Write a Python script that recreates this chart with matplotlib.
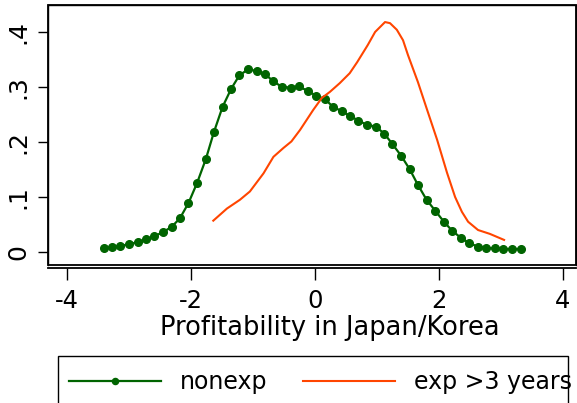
import numpy as np
import matplotlib
matplotlib.use("Agg")
import matplotlib.pyplot as plt
from matplotlib.patches import Rectangle

plt.rcParams['font.family'] = ['DejaVu Sans']

# kernel density, non-exporters (evaluated at 50 points)
nonexp_x = [-3.41, -3.27, -3.14, -3.00, -2.86, -2.72, -2.59, -2.45, -2.31, -2.18,
            -2.04, -1.90, -1.76, -1.63, -1.49, -1.35, -1.22, -1.08, -0.94, -0.80,
            -0.67, -0.53, -0.39, -0.26, -0.12, 0.02, 0.16, 0.29, 0.43, 0.57,
            0.70, 0.84, 0.98, 1.12, 1.25, 1.39, 1.53, 1.66, 1.80, 1.94,
            2.08, 2.21, 2.35, 2.49, 2.63, 2.76, 2.90, 3.04, 3.17, 3.32]
nonexp_y = [0.007, 0.0085, 0.011, 0.014, 0.018, 0.023, 0.029, 0.036, 0.046, 0.061,
            0.089, 0.126, 0.169, 0.218, 0.264, 0.297, 0.321, 0.332, 0.329, 0.323,
            0.310, 0.300, 0.299, 0.301, 0.293, 0.284, 0.278, 0.264, 0.256, 0.247,
            0.239, 0.231, 0.228, 0.215, 0.196, 0.175, 0.150, 0.122, 0.095, 0.075,
            0.055, 0.039, 0.026, 0.016, 0.0097, 0.0073, 0.0067, 0.0055, 0.0055, 0.0055]

# kernel density, exporters for more than 3 years
exp_x = [-1.64, -1.42, -1.21, -1.05, -0.83, -0.67, -0.51, -0.38, -0.24, -0.03,
         0.11, 0.24, 0.40, 0.56, 0.68, 0.85, 0.97, 1.13, 1.21, 1.32,
         1.42, 1.50, 1.66, 1.81, 1.97, 2.13, 2.26, 2.37, 2.47, 2.63, 2.82, 3.05]
exp_y = [0.057, 0.079, 0.095, 0.110, 0.143, 0.173, 0.189, 0.201, 0.222, 0.258,
         0.280, 0.291, 0.307, 0.325, 0.345, 0.376, 0.400, 0.418, 0.416, 0.404,
         0.385, 0.358, 0.309, 0.258, 0.204, 0.144, 0.100, 0.073, 0.055, 0.040, 0.033, 0.022]

green = "#006400"
orange = "#ff4500"

fig = plt.figure(figsize=(5.77, 4.03), dpi=100)
ax = fig.add_axes([48/577, 1-265/403, 528/577, 260/403])

ax.plot(nonexp_x, nonexp_y, color=green, lw=1.6, marker='o', ms=5.5,
        label="nonexp", clip_on=False)
ax.plot(exp_x, exp_y, color=orange, lw=1.5, label="exp >3 years")

ax.set_xlim(-4.306, 4.21)
ax.set_ylim(-0.0236, 0.449)

ax.set_xticks([-4, -2, 0, 2, 4])
ax.set_xticklabels(["-4", "-2", "0", "2", "4"])
ax.set_yticks([0, 0.1, 0.2, 0.3, 0.4])
ax.set_yticklabels(["0", ".1", ".2", ".3", ".4"], rotation=90, va='center')

ax.tick_params(axis='x', length=8.5, width=1.0, pad=6, labelsize=17.5)
ax.tick_params(axis='y', length=7.5, width=1.0, pad=5, labelsize=18)

# plot region box + separate x axis line just below it
for s in ax.spines.values():
    s.set_linewidth(1.0)
ax.spines['bottom'].set_position(('outward', 2.5))
ax.spines['bottom'].set_linewidth(1.3)
ax.add_patch(Rectangle((0, 0), 1, 1, transform=ax.transAxes, fill=False,
                       lw=1.3, ec='black', clip_on=False))

ax.set_xlabel("Profitability in Japan/Korea", fontsize=18.5)
ax.xaxis.set_label_coords(0.534, -0.242, transform=ax.transAxes)
ax.xaxis.label.set_va('center')

# legend box (runs off the bottom of the image)
fig.patches.append(Rectangle((57.7/577, -0.1), (568-57.7)/577, 0.1+1-355.7/403,
                             transform=fig.transFigure, fill=False, lw=1.0, ec='black'))
fig.legend(loc='center left', bbox_to_anchor=(69/577, 1-382/403), ncol=2,
           frameon=False, fontsize=17, handlelength=3.9, handletextpad=0.8,
           columnspacing=1.5, borderpad=0, borderaxespad=0, markerscale=0.8)

fig.savefig("out.png", dpi=100)
